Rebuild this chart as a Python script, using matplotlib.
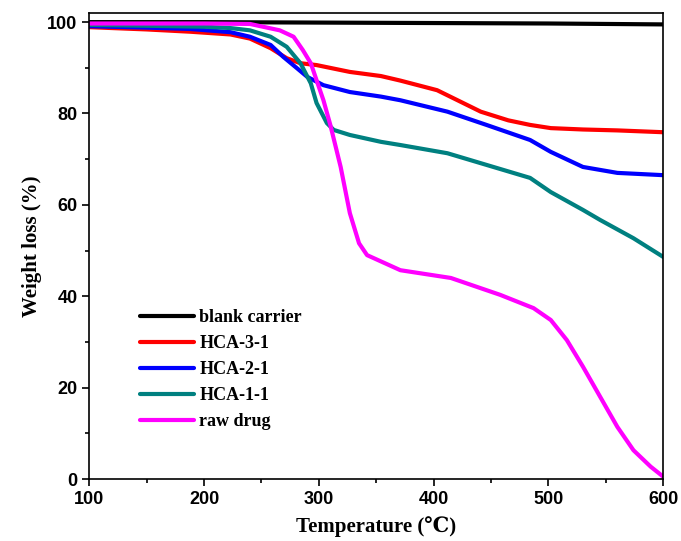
import numpy as np
import matplotlib
matplotlib.use("Agg")
import matplotlib.pyplot as plt
from matplotlib.ticker import MultipleLocator

# values
t_blank = [100, 200, 300, 400, 500, 550, 600]
w_blank = [100.0, 100.0, 99.9, 99.8, 99.7, 99.6, 99.5]

t_hca3 = [100, 150, 188, 223, 240, 258, 272, 284, 298, 327, 354, 371, 403, 441, 465, 484, 502, 530, 560, 600]
w_hca3 = [98.9, 98.4, 97.9, 97.3, 96.4, 94.3, 92.1, 91.0, 90.6, 89.1, 88.2, 87.2, 85.1, 80.4, 78.5, 77.5, 76.8, 76.5, 76.3, 75.9]

t_hca2 = [100, 150, 188, 223, 240, 258, 269, 281, 290, 304, 327, 354, 371, 412, 446, 484, 502, 530, 560, 600]
w_hca2 = [99.1, 98.8, 98.5, 97.8, 96.8, 95.0, 92.4, 89.9, 88.0, 86.2, 84.7, 83.7, 82.9, 80.4, 77.5, 74.2, 71.6, 68.3, 67.0, 66.5]

t_hca1 = [100, 150, 200, 223, 240, 258, 272, 284, 293, 298, 307, 313, 327, 354, 371, 412, 452, 484, 502, 530, 545, 574, 600]
w_hca1 = [99.4, 99.2, 99.0, 98.7, 98.2, 96.8, 94.6, 91.0, 86.6, 82.3, 77.9, 76.4, 75.3, 73.8, 73.1, 71.3, 68.3, 65.9, 62.8, 58.9, 56.7, 52.7, 48.6]

t_raw = [100, 200, 240, 266, 278, 286, 293, 298, 304, 310, 319, 327, 335, 342, 371, 415, 458, 487, 502, 516, 530, 545, 560, 574, 589, 600]
w_raw = [99.7, 99.7, 99.6, 98.2, 96.8, 93.9, 91.0, 87.3, 82.9, 77.5, 68.3, 58.2, 51.6, 49.0, 45.7, 44.0, 40.3, 37.4, 34.8, 30.4, 24.6, 18.0, 11.4, 6.3, 2.7, 0.5]

series = [
    ("blank carrier", t_blank, w_blank, "#000000"),
    ("HCA-3-1", t_hca3, w_hca3, "#ff0000"),
    ("HCA-2-1", t_hca2, w_hca2, "#0000ff"),
    ("HCA-1-1", t_hca1, w_hca1, "#008080"),
    ("raw drug", t_raw, w_raw, "#ff00ff"),
]

serif = ["Liberation Serif", "DejaVu Serif"]
sans = ["Liberation Sans", "DejaVu Sans"]

fig = plt.figure(figsize=(6.81, 5.41), dpi=100)
ax = fig.add_axes([0.131, 0.1146, 0.843, 0.8614])

for name, t, w, c in series:
    ax.plot(t, w, color=c, lw=3, label=name, solid_capstyle="round", solid_joinstyle="round")

ax.set_xlim(100, 600)
ax.set_ylim(0, 102)
ax.xaxis.set_major_locator(MultipleLocator(100))
ax.xaxis.set_minor_locator(MultipleLocator(50))
ax.yaxis.set_major_locator(MultipleLocator(20))
ax.yaxis.set_minor_locator(MultipleLocator(10))
ax.tick_params(which="both", direction="out", width=1.2)
ax.tick_params(which="major", length=5)
ax.tick_params(which="minor", length=3)
for lab in ax.get_xticklabels() + ax.get_yticklabels():
    lab.set_family(sans)
    lab.set_fontweight("bold")
    lab.set_fontsize(13)
for s in ax.spines.values():
    s.set_linewidth(1.2)

ax.set_xlabel("Temperature (\u2103)", family=serif, fontweight="bold", fontsize=15, labelpad=6)
ax.set_ylabel("Weight loss (%)", family=serif, fontweight="bold", fontsize=15, labelpad=4)

leg = ax.legend(loc="lower left", bbox_to_anchor=(0.06, 0.07), frameon=False,
                handlelength=3.0, handletextpad=0.3, labelspacing=0.5,
                prop={"family": serif, "weight": "bold", "size": 13})

fig.savefig("out.png", dpi=100)
